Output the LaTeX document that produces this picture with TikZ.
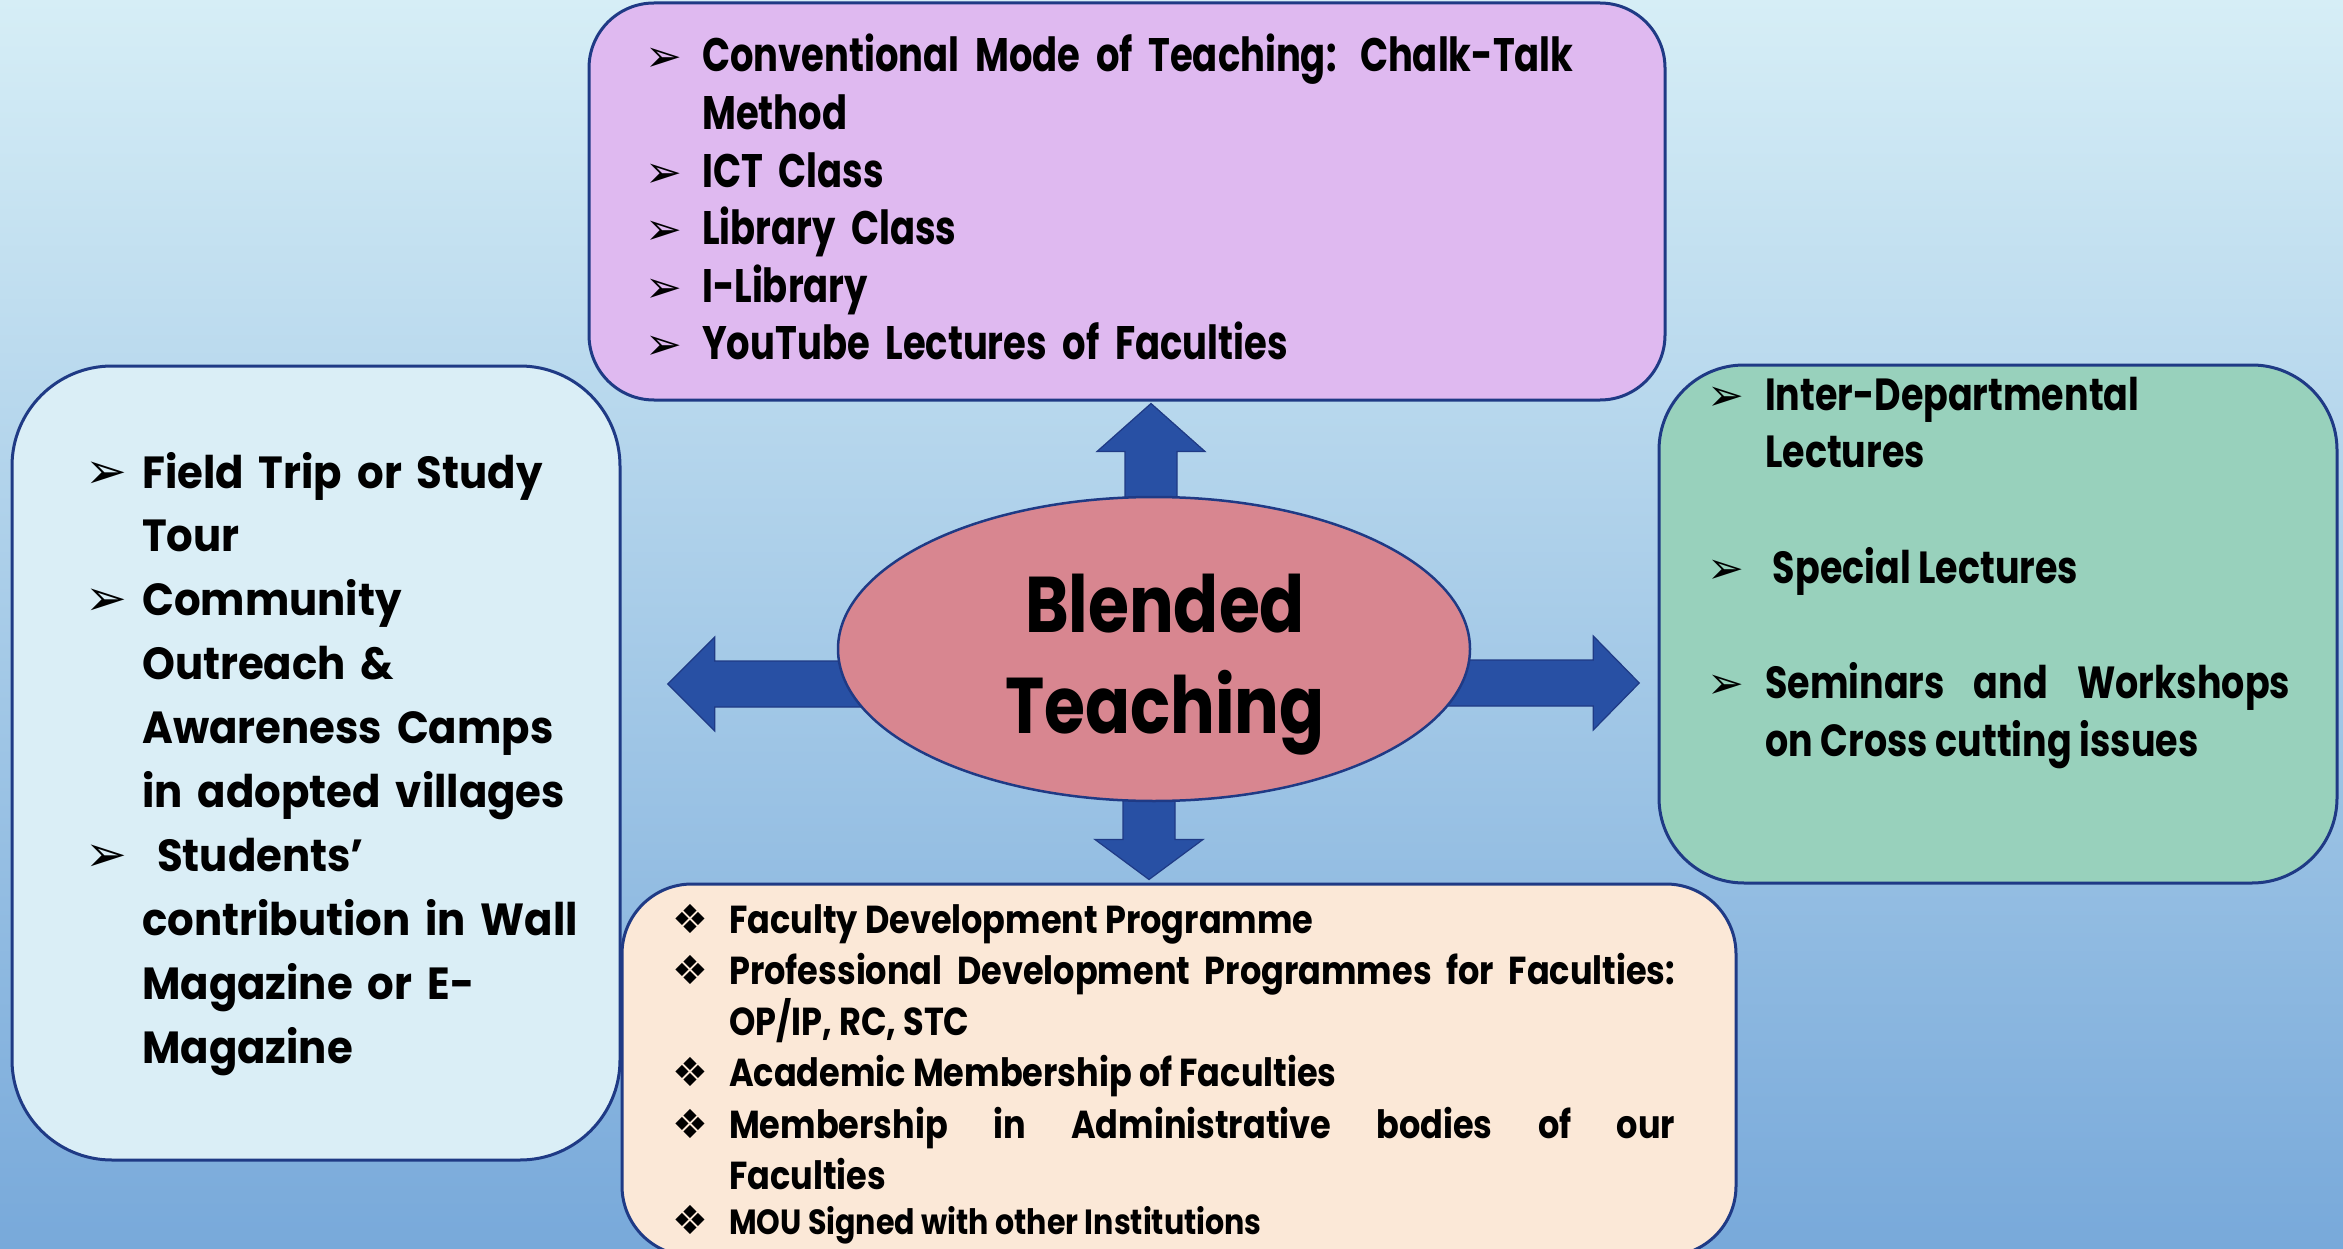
\documentclass[tikz,border=0pt]{standalone}
\usepackage{fontspec}
\usetikzlibrary{calc,shapes.geometric}
\newfontfamily\twfont{Poppins}[FakeStretch=0.785]
\newfontfamily\twfontr{Poppins}[FakeStretch=0.81]
\newfontfamily\twfontb{Poppins}[FakeStretch=0.86]
\newfontfamily\twfonte{Poppins}[FakeStretch=0.84]
\newfontfamily\cgfont{Poppins}[FakeStretch=0.93]
\newfontfamily\symfont{DejaVu Sans}
\definecolor{bgtop}{HTML}{D6EEF6}
\definecolor{bgmid}{HTML}{B3D4EE}
\definecolor{bgbot}{HTML}{78A9DA}
\definecolor{topfill}{HTML}{DFB9F0}
\definecolor{leftfill}{HTML}{DAEEF6}
\definecolor{rightfill}{HTML}{98D1BC}
\definecolor{botfill}{HTML}{FBE8D7}
\definecolor{ellfill}{HTML}{D88690}
\definecolor{arrfill}{HTML}{2850A4}
\definecolor{edgecol}{HTML}{1F3A85}
\newcommand{\bitem}[3]{\hangindent=#1\relax\hangafter=1\relax\noindent\makebox[#1][l]{#2}#3\par}
\newcommand{\arrb}[1]{{\symfont\fontsize{#1}{#1}\selectfont ➢}}
\newcommand{\diab}[1]{{\symfont\fontsize{#1}{#1}\selectfont ❖}}
\newcommand{\nohy}{\hyphenpenalty=10000\relax\tolerance=10000\relax\parindent=0pt\relax}
\tikzset{
  box/.style={draw=edgecol, line width=3pt, rectangle, inner sep=0pt},
  barrow/.style={fill=arrfill, draw=edgecol, line width=1.2pt, line join=miter},
  txt/.style={anchor=base west, inner sep=0pt, text=black},
  ellbox/.style={ellipse, draw=edgecol, line width=2.5pt, fill=ellfill, minimum width=632pt, minimum height=304pt, inner sep=0pt},
}
\begin{document}
\begin{tikzpicture}[x=1pt,y=-1pt]
\useasboundingbox (0,0) rectangle (2343,1249);
\shade[top color=bgtop, middle color=bgmid, bottom color=bgbot] (0,0) rectangle (2343,1249);

% boxes
\node[box, fill=leftfill, minimum width=608pt, minimum height=794pt, rounded corners=100pt] (lft) at (316,763) {};
\node[box, fill=botfill, minimum width=1114pt, minimum height=372pt, rounded corners=70pt] (bot) at (1179,1070) {};
\node[box, fill=rightfill, minimum width=678pt, minimum height=518pt, rounded corners=85pt] (rgt) at (1998,624) {};
\node[box, fill=topfill, minimum width=1076pt, minimum height=397pt, rounded corners=65pt] (top) at (1127,201.5) {};

% centre (position reference)
\coordinate (ec) at (1154,649);
\path (ec) node[ellbox, draw=none, fill=none] (ell) {};

% block arrows
\coordinate (tU) at ($(ell.north |- top.south)+(-3,2)$);
\coordinate (tD) at ($(ell.south |- bot.north)+(-5,-3)$);
\coordinate (tL) at ($(ell.west)+(-169,35)$);
\coordinate (tR) at ($(ell.east)+(168,34)$);
\draw[barrow] (tU) -- ++(54,48) -- ++(-28,0) -- ++(0,62) -- ++(-52,0) -- ++(0,-62) -- ++(-28,0) -- cycle;
\draw[barrow] (tD) -- ++(54,-40) -- ++(-28,0) -- ++(0,-90) -- ++(-52,0) -- ++(0,90) -- ++(-28,0) -- cycle;
\draw[barrow] (tL) -- ++(47,-47) -- ++(0,24) -- ++(180,0) -- ++(0,46) -- ++(-180,0) -- ++(0,24) -- cycle;
\draw[barrow] (tR) -- ++(-46,-47) -- ++(0,24) -- ++(-180,0) -- ++(0,46) -- ++(180,0) -- ++(0,24) -- cycle;

\node[ellbox] (ellF) at (ec) {};
\node[txt, anchor=base, text width=500pt, align=center,
      font=\twfonte\bfseries\fontsize{79}{101}\selectfont] (ellT) at (1165,632) {Blended\\Teaching};

% top box text
\node[txt, text width=1000pt, align=left,
      font=\twfont\bfseries\fontsize{47}{57.6}\selectfont] (topT) at (645,72) {\nohy%
\bitem{57pt}{\arrb{44}}{Conventional Mode of Teaching: Chalk-Talk\newline Method}%
\bitem{57pt}{\arrb{44}}{ICT Class}%
\bitem{57pt}{\arrb{44}}{Library Class}%
\bitem{57pt}{\arrb{44}}{I-Library}%
\bitem{57pt}{\arrb{44}}{YouTube Lectures of Faculties}};

% left box text
\node[txt, text width=525pt, align=left,
      font=\cgfont\bfseries\fontsize{45}{63.9}\selectfont] (lftT) at (85,488) {\nohy%
\bitem{57pt}{\arrb{50}}{Field Trip or Study\newline Tour}%
\bitem{57pt}{\arrb{50}}{Community\newline Outreach \&\newline Awareness Camps\newline in adopted villages}%
\bitem{57pt}{\arrb{50}}{\ Students’\newline contribution in Wall\newline Magazine or E-\newline Magazine}};

% right box text
\node[txt, text width=583pt, align=justify,
      font=\twfontr\bfseries\fontsize{45}{57.5}\selectfont] (rgtT) at (1707,410) {\nohy%
\bitem{58pt}{\arrb{44}}{Inter-Departmental\newline Lectures}%
\vspace*{58pt}%
\bitem{58pt}{\arrb{44}}{\ Special Lectures}%
\vspace*{58pt}%
\bitem{58pt}{\arrb{44}}{Seminars and Workshops\linebreak on Cross cutting issues}};

% bottom box text
\node[txt, text width=1003pt, align=justify,
      font=\twfontb\bfseries\fontsize{39}{51.3}\selectfont] (botT) at (672,933) {\nohy%
\bitem{57pt}{\diab{40}}{Faculty Development Programme}%
\bitem{57pt}{\diab{40}}{Professional Development Programmes for Faculties:\linebreak OP/IP, RC, STC}%
\bitem{57pt}{\diab{40}}{Academic Membership of Faculties}%
\bitem{57pt}{\diab{40}}{Membership in Administrative bodies of our\linebreak Faculties}%
\bitem{57pt}{\diab{40}}{\fontsize{35}{45}\selectfont MOU Signed with other Institutions}};
\end{tikzpicture}
\end{document}
